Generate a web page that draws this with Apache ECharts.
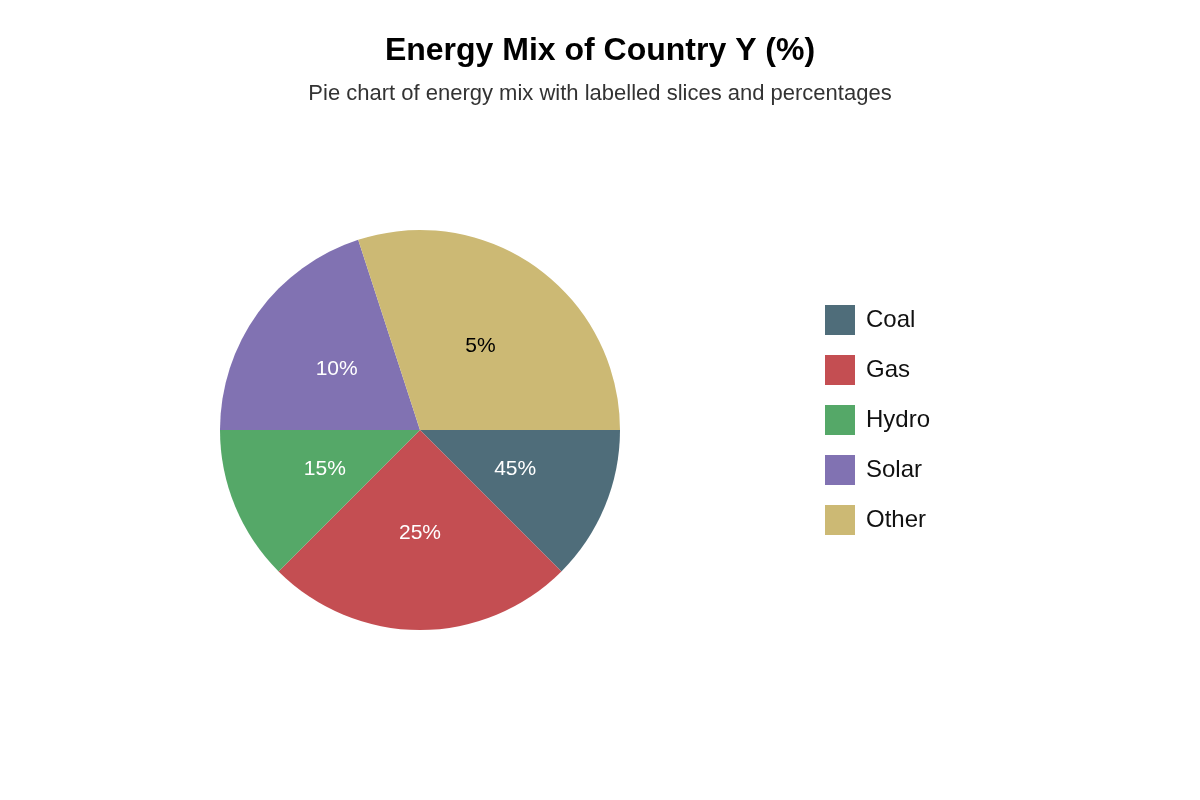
<!DOCTYPE html>
<html><head><meta charset="utf-8">
<script src="https://cdn.jsdelivr.net/npm/echarts@6/dist/echarts.min.js"></script>
<style>html,body{margin:0;background:#fff}#c{width:1200px;height:800px}</style>
</head><body><div id="c"></div>
<script>
const categories = ['Coal', 'Gas', 'Hydro', 'Solar', 'Other'];
const sliceValues = [12.5, 25, 12.5, 20, 30];
const percentLabels = ['45%', '25%', '15%', '10%', '5%'];
const colors = ['#4f6d7a', '#c44e52', '#55a868', '#8172b2', '#ccb974'];
const labelColors = ['#fff', '#fff', '#fff', '#fff', '#000'];

const chart = echarts.init(document.getElementById('c'));
chart.setOption({
  animation: false,
  textStyle: { fontFamily: 'Liberation Sans, Arial, sans-serif' },
  title: {
    text: 'Energy Mix of Country Y (%)',
    subtext: 'Pie chart of energy mix with labelled slices and percentages',
    left: 'center', top: 30, itemGap: 16,
    textStyle: { fontSize: 32, fontWeight: 'bold', color: '#000' },
    subtextStyle: { fontSize: 22, color: '#333' }
  },
  legend: {
    orient: 'vertical', left: 820, top: 300, itemWidth: 30, itemHeight: 30, itemGap: 20,
    icon: 'rect', textStyle: { fontSize: 24, color: '#111', padding: [0, 0, 0, 6] },
    data: categories
  },
  series: [{
    type: 'pie', center: [420, 430], radius: 200, startAngle: 0, clockwise: true,
    legendHoverLink: false,
    label: { position: 'inside', fontSize: 21 },
    labelLine: { show: false },
    data: categories.map((n, i) => ({
      name: n, value: sliceValues[i],
      itemStyle: { color: colors[i] },
      label: { formatter: percentLabels[i], color: labelColors[i] }
    }))
  }]
});
</script></body></html>
